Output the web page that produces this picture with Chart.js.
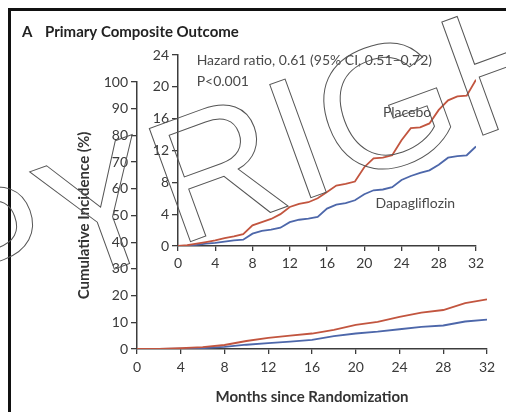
<!DOCTYPE html>
<html><head><meta charset="utf-8">
<script src="https://cdn.jsdelivr.net/npm/chart.js@4/dist/chart.umd.min.js"></script>
<style>
html,body{margin:0;padding:0;background:#fff;}
#wrap{position:relative;width:506px;height:412px;overflow:hidden;background:#fff;}
canvas{position:absolute;left:0;top:0;}
#frame{position:absolute;left:8px;top:8px;width:620px;height:620px;border-top:3px solid #111;border-left:3px solid #111;}
</style></head><body>
<div id="wrap"><div id="frame"></div>
<canvas id="main" width="506" height="412"></canvas>
<canvas id="inset" width="506" height="412"></canvas>
</div>
<script>
// ---- data (months since randomization, cumulative incidence %) ----
const monthsMain = [0,2,4,6,8,10,12,14,16,18,20,22,24,26,28,30,32];
const mainPlacebo = [0,0.05,0.3,0.7,1.5,3.0,4.2,5.0,5.8,7.2,9.0,10.2,12.0,13.6,14.6,17.2,18.6];
const mainDapa    = [0,0.05,0.1,0.3,0.8,1.6,2.2,2.8,3.4,4.8,5.8,6.5,7.4,8.3,8.8,10.3,11.0];

const monthsInset = [0,1,2,3,4,5,6,7,8,9,10,11,12,13,14,15,16,17,18,19,20,21,22,23,24,25,26,27,28,29,30,31,32];
const insetPlacebo = [0,0.1,0.3,0.5,0.7,1.0,1.2,1.5,2.6,3.0,3.4,4.0,4.9,5.3,5.5,6.0,6.8,7.6,7.8,8.1,9.9,11.0,11.1,11.4,13.3,14.8,14.9,15.4,17.1,18.3,18.8,18.9,20.9];
const insetDapa    = [0,0.05,0.15,0.3,0.4,0.55,0.7,0.8,1.55,1.9,2.05,2.3,3.0,3.3,3.45,3.65,4.7,5.2,5.4,5.75,6.5,7.0,7.1,7.4,8.3,8.8,9.2,9.5,10.2,11.1,11.3,11.4,12.5];

const xTicksMain = [0,4,8,12,16,20,24,28,32];
const yTicksMain = [0,10,20,30,40,50,60,70,80,90,100];
const yTicksInset = [0,4,8,12,16,20,24];

const seriesNames = ['Placebo','Dapagliflozin'];
const headerLetter = 'A';
const headerText = 'Primary Composite Outcome';
const xTitle = 'Months since Randomization';
const yTitle = 'Cumulative Incidence (%)';
const statLines = ['Hazard ratio, 0.61 (95% CI, 0.51\u20130.72)', 'P<0.001'];
const watermark = 'COPYRIGHT';

const RED = '#c2553f', BLUE = '#4d67aa', AX = '#3c3c3c', TXT = '#3a3a3a';
const FF = 'Lato, "Open Sans", sans-serif';

function pts(xs, ys){ return xs.map((x,i)=>({x, y: ys[i]})); }
function axisCommon(ticksArr, tl, pad, size){
  return {
    type:'linear',
    afterBuildTicks: s => { s.ticks = ticksArr.map(v=>({value:v})); },
    grid:{display:true, drawOnChartArea:false, drawTicks:true, tickLength:tl, color:AX, lineWidth:1.3},
    border:{display:true, color:AX, width:1.5},
    ticks:{color:TXT, padding:pad, font:{family:FF, size:size}, autoSkip:false, maxRotation:0}
  };
}

const mainX = Object.assign(axisCommon(xTicksMain,5,5,14), {min:0,max:32,
  title:{display:true, text:xTitle, color:'#333', font:{family:FF,size:15,weight:'bold'}, padding:{top:0,bottom:6}},
  afterFit: s => { s.height = 63; }});
const mainY = Object.assign(axisCommon(yTicksMain,6,3,14), {min:0,max:100,
  title:{display:true, text:yTitle, color:'#333', font:{family:FF,size:15,weight:'bold'}, padding:{top:75,bottom:0}},
  afterFit: s => { s.width = 137; }});

const headerPlugin = {
  id:'header',
  afterDraw(chart){
    const ctx = chart.ctx; ctx.save();
    ctx.fillStyle = '#222'; ctx.textBaseline = 'middle'; ctx.textAlign = 'left';
    ctx.font = 'bold 15px ' + FF;
    ctx.fillText(headerLetter, 22, 32);
    ctx.fillText(headerText, 45, 32);
    ctx.restore();
  }
};

new Chart(document.getElementById('main'), {
  type:'line',
  data:{datasets:[
    {label:seriesNames[0], data:pts(monthsMain, mainPlacebo), borderColor:RED, borderWidth:1.8, pointRadius:0, tension:0},
    {label:seriesNames[1], data:pts(monthsMain, mainDapa), borderColor:BLUE, borderWidth:1.8, pointRadius:0, tension:0}
  ]},
  options:{
    responsive:false, animation:false, devicePixelRatio:1,
    layout:{padding:{left:0,right:19,top:82,bottom:0}},
    plugins:{legend:{display:false}, tooltip:{enabled:false}},
    scales:{x:mainX, y:mainY}
  },
  plugins:[headerPlugin]
});

const insetX = Object.assign(axisCommon(xTicksMain,5,4,14), {min:0,max:32,
  afterFit: s => { s.height = 166; }});
const insetY = Object.assign(axisCommon(yTicksInset,6,3,14), {min:0,max:24,
  afterFit: s => { s.width = 178; }});

const annotPlugin = {
  id:'annot',
  afterDraw(chart){
    const ctx = chart.ctx, xs = chart.scales.x, ys = chart.scales.y;
    ctx.save();
    ctx.font = '14px ' + FF; ctx.fillStyle = '#4a4a4a';
    ctx.textBaseline = 'middle'; ctx.textAlign = 'left';
    ctx.fillText(statLines[0], xs.getPixelForValue(2.0), ys.getPixelForValue(23.3));
    ctx.fillText(statLines[1], xs.getPixelForValue(2.0), ys.getPixelForValue(20.7));
    ctx.fillText(seriesNames[0], xs.getPixelForValue(22.0), ys.getPixelForValue(16.8));
    ctx.fillText(seriesNames[1], xs.getPixelForValue(21.2), ys.getPixelForValue(5.4));
    // watermark
    ctx.textBaseline = 'alphabetic';
    ctx.translate(-289, 416);
    ctx.rotate(-20*Math.PI/180);
    ctx.font = '175px "Liberation Sans", Arial, sans-serif';
    ctx.strokeStyle = '#555'; ctx.lineWidth = 1;
    ctx.strokeText(watermark, 0, 0);
    ctx.restore();
  }
};

new Chart(document.getElementById('inset'), {
  type:'line',
  data:{datasets:[
    {label:seriesNames[0], data:pts(monthsInset, insetPlacebo), borderColor:RED, borderWidth:1.8, pointRadius:0, tension:0},
    {label:seriesNames[1], data:pts(monthsInset, insetDapa), borderColor:BLUE, borderWidth:1.8, pointRadius:0, tension:0}
  ]},
  options:{
    responsive:false, animation:false, devicePixelRatio:1,
    layout:{padding:{left:0,right:30,top:55,bottom:0}},
    plugins:{legend:{display:false}, tooltip:{enabled:false}},
    scales:{x:insetX, y:insetY}
  },
  plugins:[annotPlugin]
});
</script>
</body></html>
